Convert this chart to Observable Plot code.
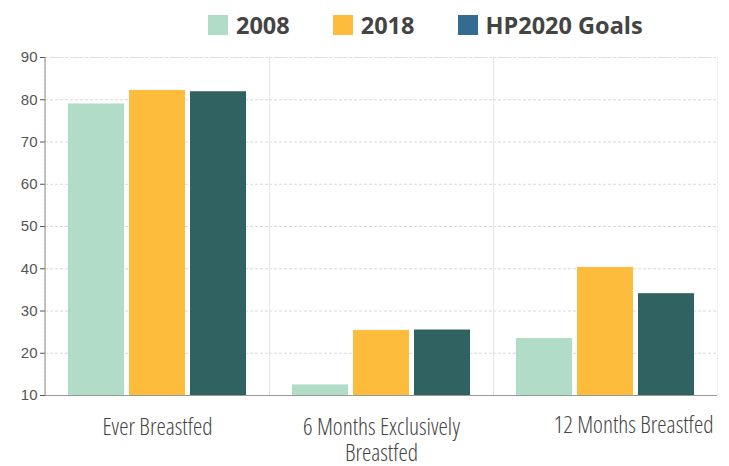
<!DOCTYPE html>
<html><head><meta charset="utf-8">
<script src="https://cdn.jsdelivr.net/npm/d3@7"></script>
<script src="https://cdn.jsdelivr.net/npm/@observablehq/plot@0.6"></script>
<style>
body{margin:0;background:#fff;width:729px;height:466px;overflow:hidden}
#legend{height:49px;display:flex;align-items:flex-start;padding-left:208px;padding-top:15px;box-sizing:border-box;font-family:"Open Sans",sans-serif;font-weight:700;font-size:23.5px;color:#444;line-height:20px}
.item{display:flex;align-items:center;margin-right:43px}
.sw{width:20px;height:20px;margin-right:8px}
.xl{font-stretch:75%;font-weight:300}
</style></head><body>
<div id="legend"></div>
<div id="chart"></div>
<script>
const categories = ["Ever Breastfed", "6 Months Exclusively Breastfed", "12 Months Breastfed"];
const tickLabels = ["Ever Breastfed", "6 Months Exclusively\nBreastfed", "12 Months Breastfed"];
const series = ["2008", "2018", "HP2020 Goals"];
const values2008 = [79.0, 12.5, 23.5];
const values2018 = [82.2, 25.4, 40.3];
const valuesHP2020 = [81.9, 25.5, 34.1];
const yTicks = [10, 20, 30, 40, 50, 60, 70, 80, 90];
const barColors = ["#b0dcc8", "#fdbc3c", "#2f6260"];
const legendColors = ["#b0dcc8", "#fdbc3c", "#336b91"];

const seriesValues = [values2008, values2018, valuesHP2020];
const data = categories.flatMap((c, i) => series.map((s, j) => ({cat: c, series: s, value: seriesValues[j][i]})));

const legend = document.getElementById("legend");
series.forEach((s, j) => {
  const it = document.createElement("div"); it.className = "item";
  const sw = document.createElement("div"); sw.className = "sw"; sw.style.background = legendColors[j];
  const t = document.createElement("span"); t.textContent = s;
  it.append(sw, t); legend.append(it);
});

const labelFont = "'Open Sans', sans-serif";
const plot = Plot.plot({
  width: 729, height: 417,
  marginTop: 8, marginLeft: 44, marginRight: 11, marginBottom: 71,
  style: {fontFamily: "'Liberation Sans', Arial, sans-serif", fontSize: "15px", color: "#555", background: "#fff", overflow: "visible"},
  fx: {domain: categories, padding: 0, axis: null},
  x: {domain: series, paddingInner: 0.08, paddingOuter: 0.36, axis: null},
  y: {domain: [10, 90], ticks: yTicks, tickSize: 5, tickPadding: 3, label: null},
  color: {domain: series, range: barColors},
  marks: [
    Plot.gridY(yTicks, {stroke: "#d8d8d8", strokeOpacity: 1, strokeDasharray: "3,2"}),
    Plot.frame({stroke: "#e2e2e2", strokeDasharray: "2,2"}),
    Plot.barY(data, {fx: "cat", x: "series", y1: 10, y2: "value", fill: "series"}),
    Plot.ruleY([10], {stroke: "#999"}),
    Plot.text(categories.slice(0, 2), {fx: d => d, text: (d, i) => tickLabels[i], frameAnchor: "bottom", dy: 21, lineAnchor: "top", lineHeight: 1.1, fontSize: 23.5, fill: "#444", fontFamily: labelFont, className: "xl"}),
    Plot.text(categories.slice(2), {fx: d => d, text: (d, i) => tickLabels[i + 2], frameAnchor: "bottom-right", textAnchor: "end", dx: -4, dy: 21, lineAnchor: "top", fontSize: 23.5, fill: "#444", fontFamily: labelFont, className: "xl"})
  ]
});
// solid y-axis line, positioned from the plot's own scales
const fx = plot.scale("fx"), ys = plot.scale("y");
const x0 = fx.apply(categories[0]);
d3.select(plot).append("line")
  .attr("x1", x0).attr("x2", x0)
  .attr("y1", ys.apply(90)).attr("y2", ys.apply(10))
  .attr("stroke", "#888");
document.getElementById("chart").append(plot);
</script>
</body></html>
